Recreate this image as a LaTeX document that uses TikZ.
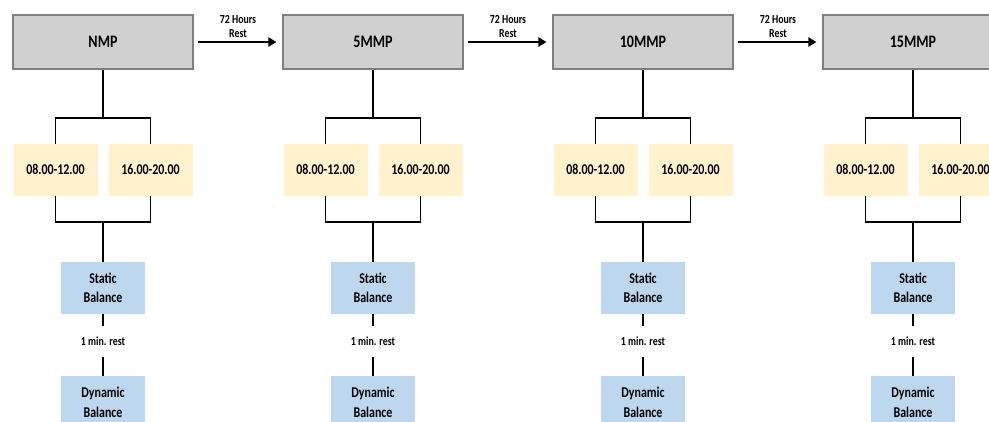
\documentclass[tikz,border=0pt]{standalone}
\usepackage{fontspec}
\setmainfont{Carlito}[FakeStretch=0.8]
\usetikzlibrary{positioning,arrows.meta}

\definecolor{boxgray}{HTML}{D0D0D0}
\definecolor{edgegray}{HTML}{808080}
\definecolor{slotyellow}{HTML}{FFF2CC}
\definecolor{testblue}{HTML}{BDD7EE}

\tikzset{
  phase/.style={draw=edgegray, fill=boxgray, line width=0.6pt,
    minimum width=3.6cm, minimum height=1.08cm,
    font=\bfseries\fontsize{10}{12}\selectfont},
  slot/.style={fill=slotyellow, minimum width=1.68cm, minimum height=1.04cm,
    font=\bfseries\fontsize{8.5}{11}\selectfont},
  test/.style={fill=testblue, minimum width=1.68cm, minimum height=1.04cm,
    align=center, font=\bfseries\fontsize{8.5}{11}\selectfont},
  note/.style={align=center, inner sep=0pt,
    font=\bfseries\fontsize{7}{8}\selectfont},
  link/.style={line width=1.1pt},
  flow/.style={line width=1.1pt, -{Triangle[length=1.6mm,width=1.8mm]},
    shorten <=0.08cm, shorten >=0.12cm},
}

\begin{document}
\begin{tikzpicture}
  \useasboundingbox (0,0) rectangle (19.78,-8.42);

  % one column per protocol
  \foreach \lab/\x [count=\i] in {NMP/2.06, 5MMP/7.46, 10MMP/12.86, 15MMP/18.26} {
    \node[phase] (top\i) at (\x,-0.84) {\lab};
    \node[slot, below=1.48cm of top\i, xshift=-0.95cm] (am\i) {08.00-12.00};
    \node[slot, below=1.48cm of top\i, xshift=0.95cm] (pm\i) {16.00-20.00};
    \node[test, below=3.84cm of top\i] (stat\i) {Static\\Balance};
    \node[note, below=0.24cm of stat\i, minimum height=0.6cm] (rest\i) {1 min. rest};
    \node[test, below=0.38cm of rest\i] (dyn\i) {Dynamic\\Balance};

    \coordinate[below=0.96cm of top\i] (split\i);
    \coordinate[above=0.8cm of stat\i] (join\i);

    \draw[link] (top\i) -- (split\i);
    \draw[link] (am\i.north) |- (split\i) -| (pm\i.north);
    \draw[link] (am\i.south) |- (join\i) -| (pm\i.south);
    \draw[link] (join\i) -- (stat\i);
    \draw[link] (stat\i) -- (rest\i);
    \draw[link] (rest\i) -- (dyn\i);
  }

  % rest periods between protocols
  \foreach \i/\j in {1/2, 2/3, 3/4}
    \draw[flow] (top\i) -- node[note, above=2pt] {72 Hours\\Rest} (top\j);
\end{tikzpicture}
\end{document}
